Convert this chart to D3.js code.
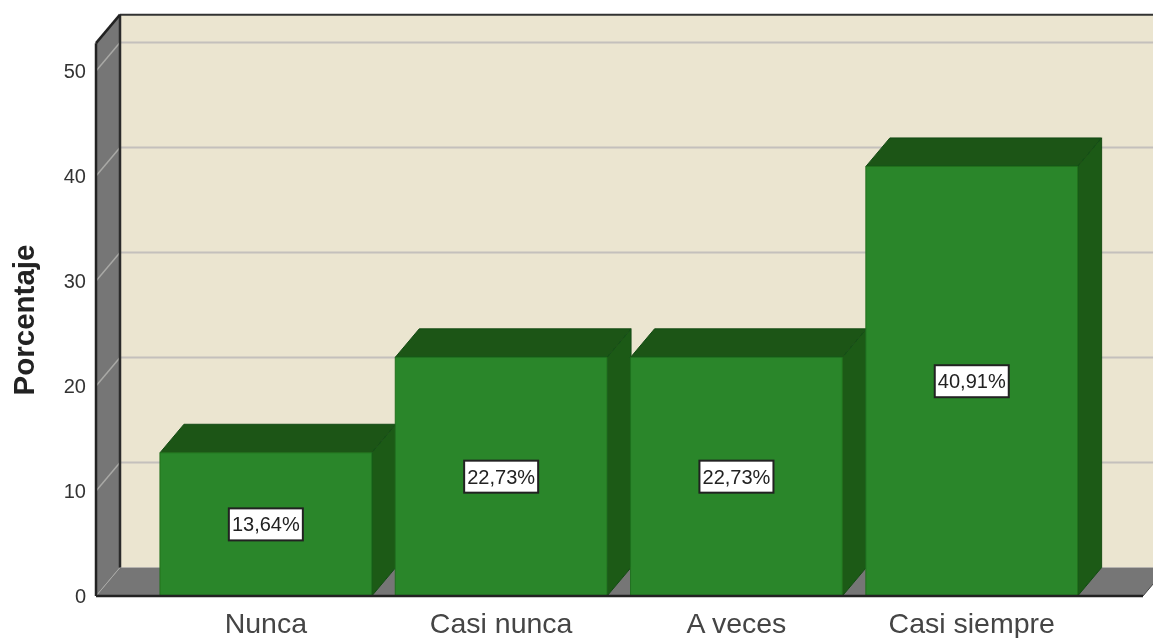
<!DOCTYPE html>
<html><head><meta charset="utf-8">
<script src="https://cdnjs.cloudflare.com/ajax/libs/d3/7.8.5/d3.min.js"></script>
<style>html,body{margin:0;padding:0;background:#fff}svg{display:block}text{font-family:"Liberation Sans",Arial,sans-serif}</style>
</head><body><svg id="c" width="1153" height="638"></svg>
<script>
const categories=["Nunca","Casi nunca","A veces","Casi siempre"];
const percentages=[13.64,22.73,22.73,40.91];
const valueLabels=["13,64%","22,73%","22,73%","40,91%"];
const yTicks=[0,10,20,30,40,50];
const yLabel="Porcentaje";
const W=1153,H=638,dx=24,dy=-28.5;
const svg=d3.select("#c");
const defs=svg.append("defs");
defs.append("filter").attr("id","soft").attr("filterUnits","userSpaceOnUse").attr("x",0).attr("y",0).attr("width",W).attr("height",H)
 .append("feGaussianBlur").attr("stdDeviation",0.6);
const g=svg.append("g").attr("filter","url(#soft)");
const y=d3.scaleLinear().domain([0,50]).range([596,71]);
const yMax=52.65;
const x=d3.scaleBand().domain(categories).range([148.2,1089.4]).paddingInner(0.1).paddingOuter(0.05);
const left=96,right=1143;
const poly=(pts,fill,stroke,sw)=>g.append("polygon").attr("points",pts.map(p=>p.join(",")).join(" ")).attr("fill",fill).attr("stroke",stroke||"none").attr("stroke-width",sw||0);
const line=(a,b,c,w)=>g.append("line").attr("x1",a[0]).attr("y1",a[1]).attr("x2",b[0]).attr("y2",b[1]).attr("stroke",c).attr("stroke-width",w);
const wallTop=y(yMax);
poly([[left+dx,wallTop+dy],[W+30,wallTop+dy],[W+30,y(0)+dy],[left+dx,y(0)+dy]],"#ebe5d0");
poly([[left,wallTop],[left+dx,wallTop+dy],[left+dx,y(0)+dy],[left,y(0)]],"#767676");
poly([[left,y(0)],[left+dx,y(0)+dy],[right+dx,y(0)+dy],[right,y(0)]],"#767676");
yTicks.slice(1).forEach(t=>{
  line([left+dx,y(t)+dy],[W+30,y(t)+dy],"#c4c0bc",2);
  line([left,y(t)],[left+dx,y(t)+dy],"#a9a9a6",1.5);
});
line([left,y(0)],[left+dx,y(0)+dy],"#a9a9a6",1);
line([left+dx,wallTop+dy],[W+30,wallTop+dy],"#333",2);
line([left+dx,wallTop+dy],[left+dx,y(0)+dy],"#2b2b2b",2.5);
line([left,wallTop],[left+dx,wallTop+dy],"#222",2.5);
line([left,wallTop],[left,y(0)],"#222",2.5);
line([right,y(0)],[right+dx,y(0)+dy],"#444",1);
categories.forEach((c,i)=>{
  const x0=x(c),x1=x0+x.bandwidth(),yt=y(percentages[i]),yb=y(0);
  poly([[x0,yt],[x0+dx,yt+dy],[x1+dx,yt+dy],[x1,yt]],"#1a5518","#174c15",1);
  poly([[x1,yt],[x1+dx,yt+dy],[x1+dx,yb+dy],[x1,yb]],"#1a5a18","#174c15",1);
  poly([[x0,yt],[x1,yt],[x1,yb],[x0,yb]],"#2a862a","#21701f",1);
  const cy=y(percentages[i]/2),cx=(x0+x1)/2;
  g.append("rect").attr("x",cx-37).attr("y",cy-16).attr("width",74).attr("height",32).attr("fill","#fff").attr("stroke","#222").attr("stroke-width",2);
  g.append("text").attr("x",cx).attr("y",cy+7).attr("text-anchor","middle").attr("font-size",20).attr("fill","#222").text(valueLabels[i]);
});
line([left,y(0)],[right,y(0)],"#222",2.5);
yTicks.forEach(t=>g.append("text").attr("x",86).attr("y",y(t)+7).attr("text-anchor","end").attr("font-size",20).attr("fill","#333").text(t));
categories.forEach(c=>g.append("text").attr("x",x(c)+x.bandwidth()/2).attr("y",633).attr("text-anchor","middle").attr("font-size",28.5).attr("fill","#444").text(c));
g.append("text").attr("transform","translate(34,320) rotate(-90)").attr("text-anchor","middle").attr("font-size",29.5).attr("font-weight","bold").attr("fill","#222").text(yLabel);
</script></body></html>
